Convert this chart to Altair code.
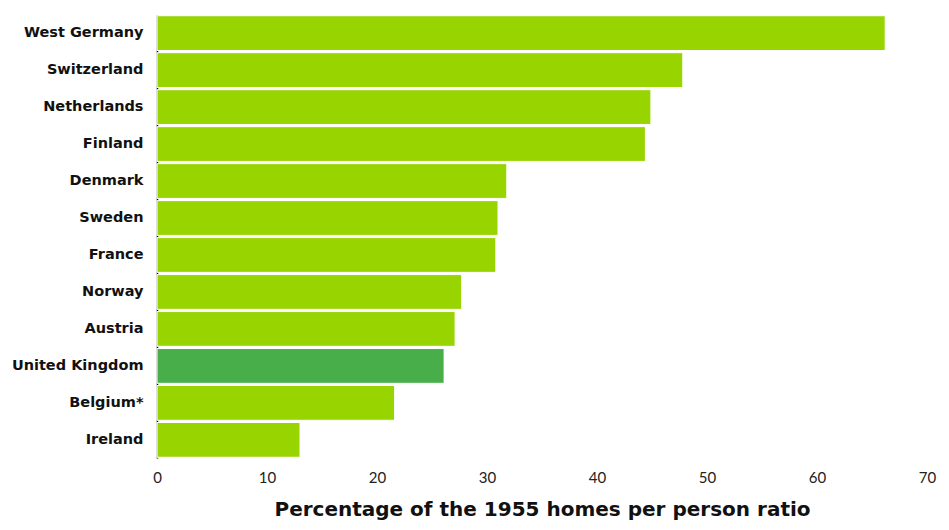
import altair as alt
import pandas as pd

countries = ["West Germany", "Switzerland", "Netherlands", "Finland", "Denmark", "Sweden",
             "France", "Norway", "Austria", "United Kingdom", "Belgium*", "Ireland"]
values = [66.2, 47.8, 44.9, 44.4, 31.8, 31.0, 30.8, 27.7, 27.1, 26.1, 21.6, 13.0]
highlight = ["no"] * 9 + ["yes"] + ["no"] * 2

df = pd.DataFrame({"country": countries, "value": values, "hl": highlight})

chart = alt.Chart(df).mark_bar(stroke="white", strokeWidth=1).encode(
    x=alt.X("value:Q",
            scale=alt.Scale(domain=[0, 70], nice=False),
            axis=alt.Axis(title="Percentage of the 1955 homes per person ratio",
                          values=[0, 10, 20, 30, 40, 50, 60, 70],
                          grid=False, domain=False, ticks=False, labelFlush=False,
                          labelFont="Lato", labelFontSize=15, labelColor="#222",
                          labelPadding=12,
                          titleFont="DejaVu Sans", titleFontSize=20, titleFontWeight="bold",
                          titleColor="#111", titlePadding=14)),
    y=alt.Y("country:N", sort=countries,
            scale=alt.Scale(paddingInner=0.06, paddingOuter=0.02),
            axis=alt.Axis(title=None, domain=True, domainColor="#000", domainWidth=1.5,
                          ticks=False, labelFont="DejaVu Sans", labelFontSize=14.5,
                          labelFontWeight="bold", labelColor="#111", labelPadding=14)),
    color=alt.Color("hl:N", scale=alt.Scale(domain=["no", "yes"], range=["#97d400", "#47ae4a"]),
                    legend=None),
).properties(
    width=770, height=443,
    autosize=alt.AutoSizeParams(type="none"),
    padding={"left": 149, "top": 7, "right": 14, "bottom": 64},
).configure_view(stroke=None)

chart.save("out.html", embed_options={"renderer": "svg", "actions": False})
